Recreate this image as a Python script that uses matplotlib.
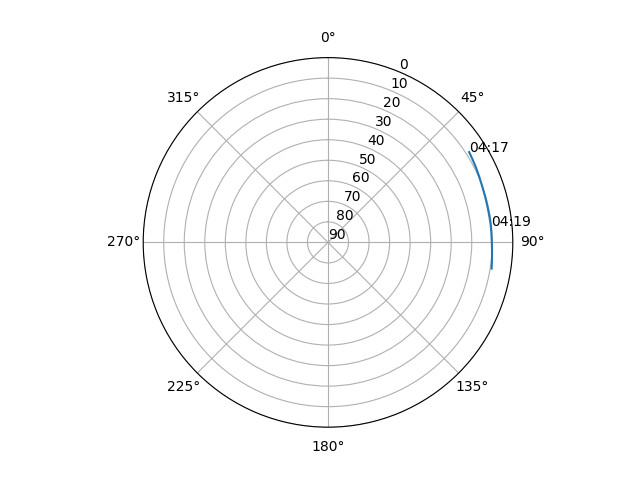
import numpy as np
import matplotlib
matplotlib.use("Agg")
import matplotlib.pyplot as plt

# pass track (azimuth deg, elevation deg)
azimuth = [57.4, 60.0, 63.0, 66.5, 70.3, 74.0, 77.5, 80.5, 83.4, 86.5, 90.0, 93.0, 96.0, 99.1]
elevation = [8.4, 8.8, 9.2, 9.7, 10.1, 10.3, 10.4, 10.4, 10.3, 10.3, 10.2, 10.0, 9.7, 9.3]

# time markers along the pass
label_az = [57.4, 84.1]
label_el = [8.4, 10.0]
label_text = ["04:17", "04:19"]

fig = plt.figure(figsize=(6.4, 4.8), dpi=100)
ax = fig.add_subplot(111, projection="polar")
ax.set_theta_zero_location("N")
ax.set_theta_direction(-1)

ax.plot(np.radians(azimuth), elevation)
for az, el, txt in zip(label_az, label_el, label_text):
    ax.text(np.radians(az), el, txt)

ax.set_yticks(range(0, 91, 10))
ax.set_rlim(90, 0)

plt.savefig("out.png")
